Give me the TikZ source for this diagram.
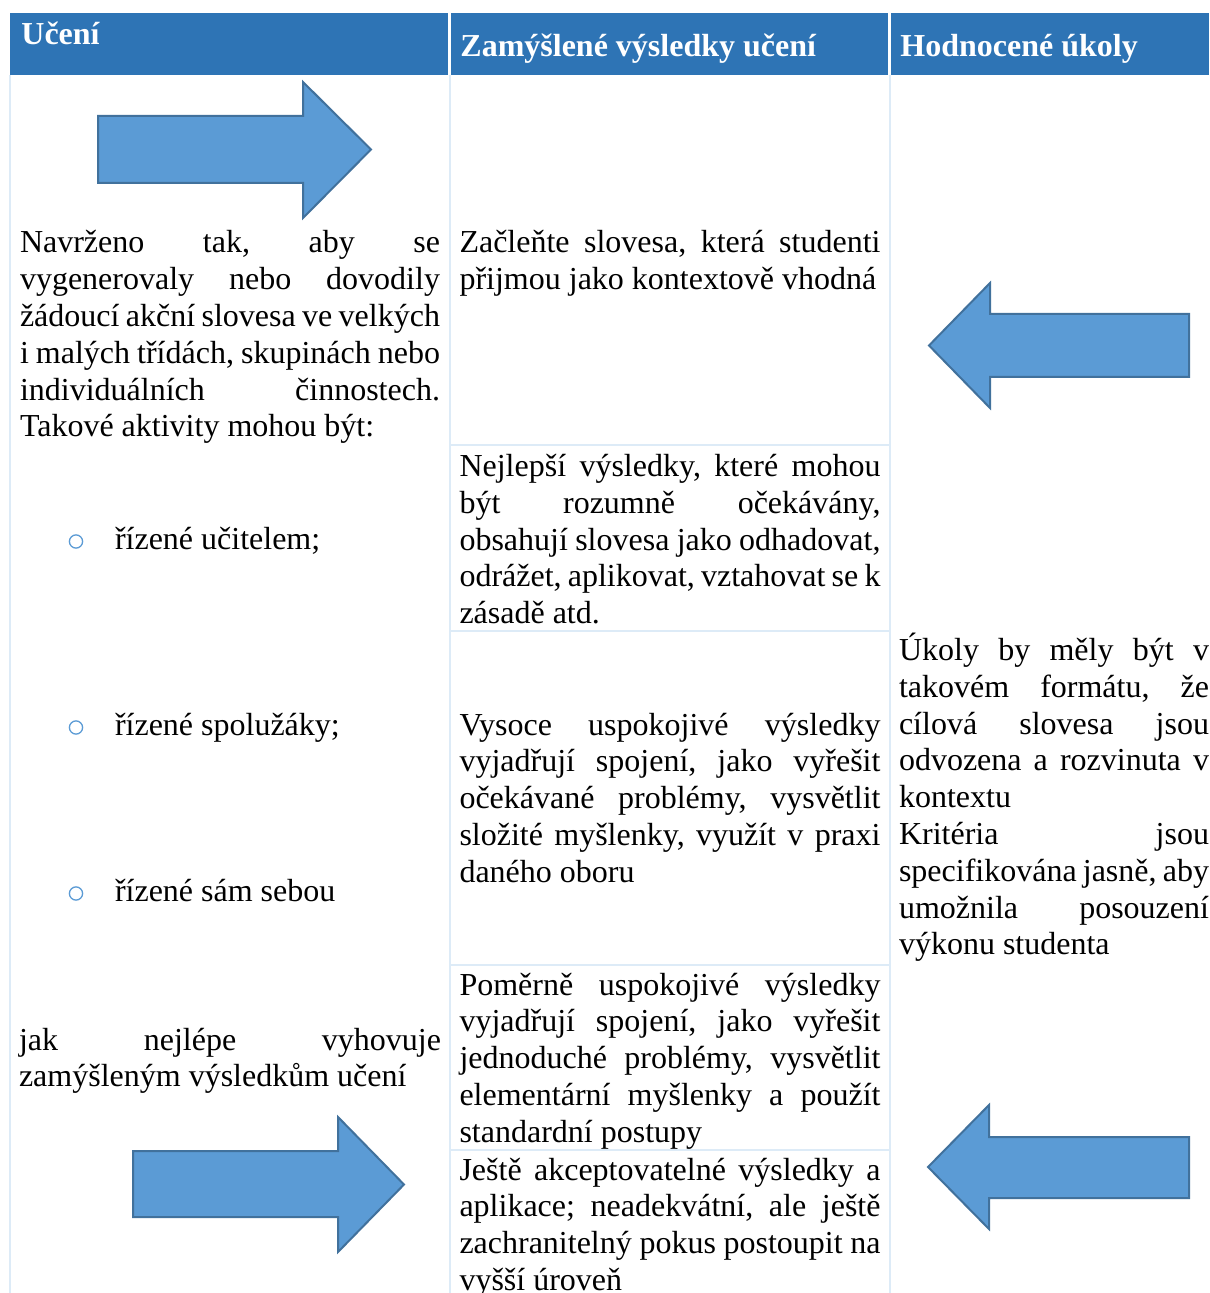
\documentclass[tikz,border=0pt]{standalone}
\usepackage{fontspec}
\setmainfont{Liberation Serif}
\definecolor{hdr}{HTML}{2E74B5}
\definecolor{arrfill}{HTML}{5B9BD5}
\definecolor{arrline}{HTML}{41719C}
\definecolor{gridc}{HTML}{DDEBF7}
\tolerance=10000
\hbadness=10000
\hyphenpenalty=10000
\exhyphenpenalty=10000
\frenchspacing
\begin{document}
\begin{tikzpicture}[x=0.5pt,y=-0.5pt,
  body/.style={anchor=base west, inner sep=0pt, outer sep=0pt, align=justify,
    font=\fontsize{16pt}{18.4pt}\selectfont},
  hdrtext/.style={anchor=base west, inner sep=0pt, text=white,
    font=\bfseries\fontsize{16pt}{18.4pt}\selectfont},
  hdrbox/.style={fill=hdr, draw=none},
  arrowshape/.style={fill=arrfill, draw=arrline, line width=1pt, line join=miter},
  gridline/.style={draw=gridc, line width=1pt},
  bulletmark/.style={circle, draw=arrfill, line width=0.65pt, minimum size=6.6pt, inner sep=0pt}
]
\useasboundingbox (0,0) rectangle (1209,1293);
\fill[white] (0,0) rectangle (1209,1293);

% header
\fill[hdrbox] (10,13) rectangle (448,75);
\fill[hdrbox] (451,13) rectangle (888,75);
\fill[hdrbox] (891,13) rectangle (1209,75);
\node[hdrtext] (h1) at (21,45) {Učení};
\node[hdrtext] (h2) at (460,56.5) {Zamýšlené výsledky učení};
\node[hdrtext] (h3) at (900,56.5) {Hodnocené úkoly};

% grid
\draw[gridline] (10,75) -- (10,1293);
\draw[gridline] (450,75) -- (450,1293);
\draw[gridline] (890,75) -- (890,1293);
\draw[gridline] (450,445) -- (890,445);
\draw[gridline] (450,631) -- (890,631);
\draw[gridline] (450,965) -- (890,965);
\draw[gridline] (450,1150) -- (890,1150);

% column 1
\node[body, text width=210pt] (c1a) at (20,253) {Navrženo tak, aby se\linebreak vygenerovaly nebo dovodily\linebreak žádoucí akční slovesa ve velkých\linebreak i malých třídách, skupinách nebo\linebreak individuálních činnostech.\linebreak Takové aktivity mohou být:};
\node[bulletmark] (b1) at (76,541.5) {};
\node[body] (t1) at (115,549) {řízené učitelem;};
\node[bulletmark] (b2) at (76,727.5) {};
\node[body] (t2) at (115,735) {řízené spolužáky;};
\node[bulletmark] (b3) at (76,893.5) {};
\node[body] (t3) at (115,901) {řízené sám sebou};
\node[body, text width=211pt] (c1b) at (19,1050) {jak nejlépe vyhovuje\linebreak zamýšleným výsledkům učení};

% column 2
\node[body, text width=210.5pt] (c2a) at (459.5,253) {Začleňte slovesa, která studenti\linebreak přijmou jako kontextově vhodná};
\node[body, text width=210.5pt] (c2b) at (459.5,476.5) {Nejlepší výsledky, které mohou\linebreak být rozumně očekávány,\linebreak obsahují slovesa jako odhadovat,\linebreak odrážet, aplikovat, vztahovat se k\linebreak zásadě atd.};
\node[body, text width=210.5pt] (c2c) at (459.5,735) {Vysoce uspokojivé výsledky\linebreak vyjadřují spojení, jako vyřešit\linebreak očekávané problémy, vysvětlit\linebreak složité myšlenky, využít v praxi\linebreak daného oboru};
\node[body, text width=210.5pt] (c2d) at (459.5,995) {Poměrně uspokojivé výsledky\linebreak vyjadřují spojení, jako vyřešit\linebreak jednoduché problémy, vysvětlit\linebreak elementární myšlenky a použít\linebreak standardní postupy};
\node[body, text width=210.5pt] (c2e) at (459.5,1180) {Ještě akceptovatelné výsledky a\linebreak aplikace; neadekvátní, ale ještě\linebreak zachranitelný pokus postoupit na\linebreak vyšší úroveň};

% column 3
\node[body, text width=155pt] (c3) at (899,660.5) {Úkoly by měly být v\linebreak takovém formátu, že\linebreak cílová slovesa jsou\linebreak odvozena a rozvinuta v\linebreak kontextu\\Kritéria jsou\linebreak specifikována jasně, aby\linebreak umožnila posouzení\linebreak výkonu studenta};

% arrows
\draw[arrowshape] (98,116) -- (303,116) -- (303,82) -- (371,149.5) -- (303,218) -- (303,183) -- (98,183) -- cycle;
\draw[arrowshape] (1189,314) -- (990,314) -- (990,283) -- (929,345.5) -- (990,408) -- (990,377) -- (1189,377) -- cycle;
\draw[arrowshape] (133,1151) -- (338,1151) -- (338,1117) -- (404,1184.5) -- (338,1252) -- (338,1217) -- (133,1217) -- cycle;
\draw[arrowshape] (1189,1137) -- (989,1137) -- (989,1105) -- (928,1167) -- (989,1229) -- (989,1198) -- (1189,1198) -- cycle;
\end{tikzpicture}
\end{document}
